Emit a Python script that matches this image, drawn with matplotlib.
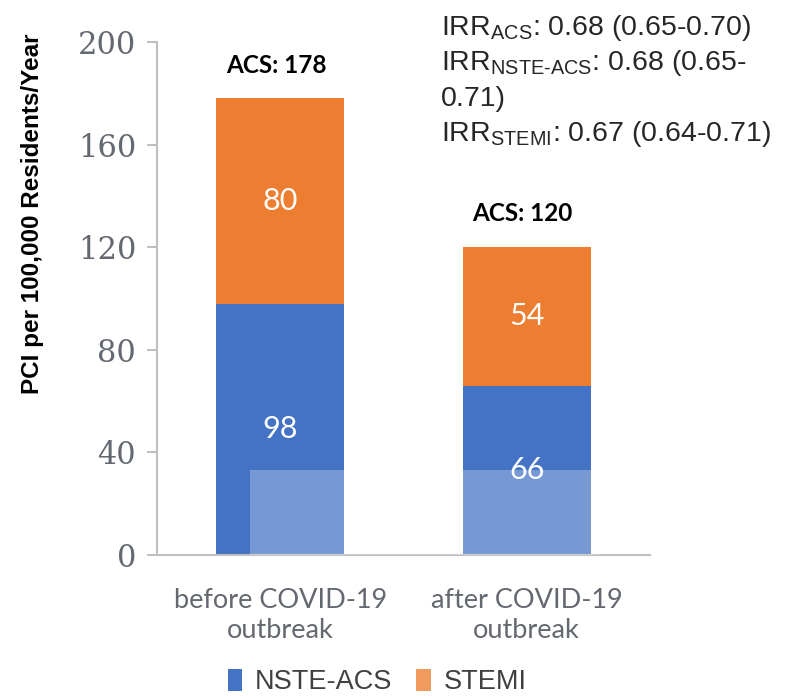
import matplotlib
matplotlib.use("Agg")
import matplotlib.pyplot as plt
from matplotlib.patches import Rectangle, Patch

# data
categories = ["before COVID-19\noutbreak", "after COVID-19\noutbreak"]
nste_acs = [98, 66]
stemi = [80, 54]
acs_total = [178, 120]
irr_lines = [
    r"IRR$_{\mathregular{ACS}}$: 0.68 (0.65-0.70)",
    r"IRR$_{\text{NSTE-ACS}}$: 0.68 (0.65-",
    "0.71)",
    r"IRR$_{\mathregular{STEMI}}$: 0.67 (0.64-0.71)",
]

plt.rcParams["mathtext.fontset"] = "custom"
plt.rcParams["mathtext.rm"] = "Liberation Sans"
plt.rcParams["mathtext.default"] = "regular"
plt.rcParams["font.family"] = "Liberation Sans"

blue = "#4472C4"
orange = "#ED7D31"
grid_gray = "#BFBFBF"
text_gray = "#646870"

W, H = 807, 696
fig = plt.figure(figsize=(W / 100, H / 100), dpi=100)
ax = fig.add_axes([157 / W, 1 - 555 / H, 493 / W, 513 / H])

x = range(len(categories))
ax.bar(x, nste_acs, width=0.52, color=blue, zorder=2)
ax.bar(x, stemi, width=0.52, bottom=nste_acs, color=orange, zorder=2)

for i in x:
    ax.text(i, nste_acs[i] / 2, str(nste_acs[i]), ha="center", va="center",
            color="white", fontsize=22, family="Lato", zorder=4)
    ax.text(i, nste_acs[i] + stemi[i] / 2, str(stemi[i]), ha="center", va="center",
            color="white", fontsize=22, family="Lato", zorder=4)
    ax.annotate("ACS: %d" % acs_total[i], (i, acs_total[i]), xytext=(-3, 24),
                textcoords="offset points", ha="center", va="center",
                fontsize=17.5, fontweight="bold", family="Lato", color="black")

ax.set_xlim(-0.5, 1.5)
ax.set_ylim(0, 200)
ax.set_yticks([0, 40, 80, 120, 160, 200])
ax.set_xticks(list(x))
ax.set_xticklabels(categories, family="Lato", fontsize=19.5, color=text_gray,
                   linespacing=1.25)
for lab in ax.get_yticklabels():
    lab.set_family("DejaVu Serif")
    lab.set_fontsize(22)
    lab.set_color(text_gray)

ax.tick_params(axis="y", length=7, width=1.5, color=grid_gray, pad=8)
ax.tick_params(axis="x", length=0, pad=24)
for s in ["top", "right"]:
    ax.spines[s].set_visible(False)
ax.spines["left"].set_color(grid_gray)
ax.spines["left"].set_linewidth(1.5)
ax.spines["bottom"].set_color(grid_gray)
ax.spines["bottom"].set_linewidth(1.5)

# washed out patch over the lower part of the bars
fig.patches.append(Rectangle((250 / W, 1 - 555 / H), 350 / W, 85 / H,
                             transform=fig.transFigure, facecolor="white",
                             alpha=0.27, edgecolor="none", zorder=5))

fig.text(33 / W, 1 - 214 / H, "PCI per 100,000 Residents/Year", rotation=90,
         ha="center", va="center", fontsize=17.5, fontweight="bold")

baselines = [35, 70, 106, 141]
for line, yb in zip(irr_lines, baselines):
    fig.text(441 / W, 1 - yb / H, line, ha="left", va="baseline", fontsize=20.5,
             color="#262626")

handles = [Patch(facecolor=blue), Patch(facecolor="#F19B5F")]
fig.legend(handles, ["NSTE-ACS", "STEMI"], loc="center", ncol=2,
           bbox_to_anchor=(377 / W, 1 - 682 / H), frameon=False, fontsize=19.5,
           handlelength=0.55, handleheight=0.9, handletextpad=0.45,
           columnspacing=0.9, labelcolor="#404040")

fig.savefig("out.png", dpi=100)
